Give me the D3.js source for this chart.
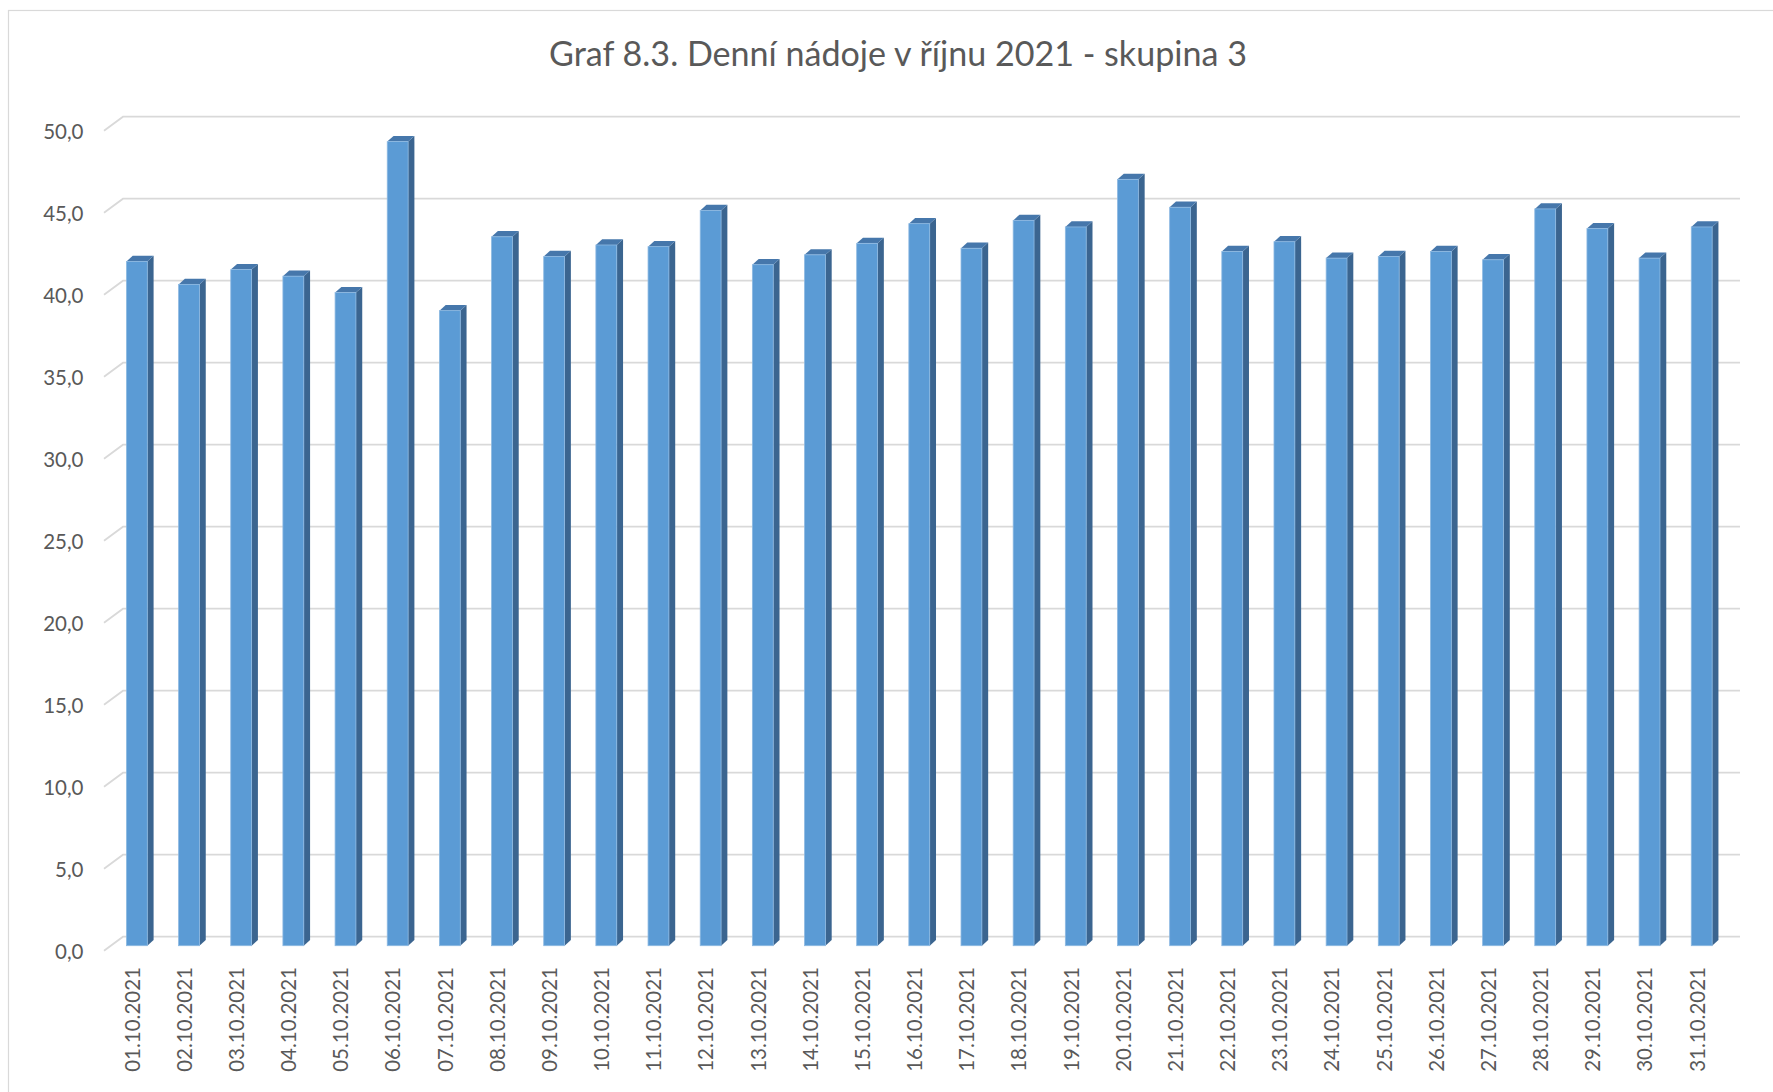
<!DOCTYPE html>
<html>
<head>
<meta charset="utf-8">
<script src="https://cdn.jsdelivr.net/npm/d3@7"></script>
<style>
  html, body { margin: 0; padding: 0; background: #ffffff; overflow: hidden; }
  svg { display: block; }
  text { font-family: Lato, "Open Sans", sans-serif; fill: #595959; }
</style>
</head>
<body>
<svg id="chart" width="1773" height="1092"></svg>
<script>
// ---- data ----
const title = "Graf 8.3. Denní nádoje v říjnu 2021 - skupina 3";
const dates = [
  "01.10.2021","02.10.2021","03.10.2021","04.10.2021","05.10.2021","06.10.2021","07.10.2021",
  "08.10.2021","09.10.2021","10.10.2021","11.10.2021","12.10.2021","13.10.2021","14.10.2021",
  "15.10.2021","16.10.2021","17.10.2021","18.10.2021","19.10.2021","20.10.2021","21.10.2021",
  "22.10.2021","23.10.2021","24.10.2021","25.10.2021","26.10.2021","27.10.2021","28.10.2021",
  "29.10.2021","30.10.2021","31.10.2021"
];
const values = [
  41.7, 40.3, 41.2, 40.8, 39.8, 49.0, 38.7,
  43.2, 42.0, 42.7, 42.6, 44.8, 41.5, 42.1,
  42.8, 44.0, 42.5, 44.2, 43.8, 46.7, 45.0,
  42.3, 42.9, 41.9, 42.0, 42.3, 41.8, 44.9,
  43.7, 41.9, 43.8
];
const yTicks = [0, 5, 10, 15, 20, 25, 30, 35, 40, 45, 50];

// ---- layout ----
const svg = d3.select("#chart");
const fmt = v => d3.format(".1f")(v).replace(".", ",");

// 3D projection offsets
const wallDX = 19, wallDY = 14;      // floor depth (front -> back wall)
const barDX = 6.3, barDY = 5.7;      // bar depth
const barFrontDepth = 0.357;         // fraction of floor depth where bar front sits

const xBackStart = 123, xBackEnd = 1740;
const yBack = d3.scaleLinear().domain([0, 50]).range([936.7, 116.7]);
const yFront = d3.scaleLinear().domain([0, 50]).range([950.7, 130.7]);
const yBar = d3.scaleLinear().domain([0, 50]).range([945.7, 945.7 - 820.5]);

const xFront = d3.scaleBand().domain(dates)
  .range([xBackStart - wallDX, xBackEnd - wallDX]);
const barOff = wallDX * barFrontDepth - wallDX;
const xBar = d3.scaleBand().domain(dates)
  .range([xBackStart + barOff, xBackEnd + barOff])
  .paddingInner(0.6).paddingOuter(0.3);

// chart border
svg.append("rect")
  .attr("x", 8.5).attr("y", 10.5)
  .attr("width", 1800).attr("height", 1200)
  .attr("fill", "none").attr("stroke", "#d9d9d9").attr("stroke-width", 1.2);

// title
const t = svg.append("text")
  .attr("x", 898).attr("y", 65.5)
  .attr("text-anchor", "middle")
  .style("font-size", "34px")
  .text(title);
const tw = t.node().getComputedTextLength();
t.style("font-size", (34 * 698 / tw).toFixed(2) + "px");

// gridlines (back wall + left wall diagonals)
const grid = svg.append("g").attr("fill", "none")
  .attr("stroke", "#d9d9d9").attr("stroke-width", 1.8);
yTicks.forEach(v => {
  const yb = yBack(v);
  grid.append("path")
    .attr("d", `M${xBackStart - wallDX},${yb + wallDY}L${xBackStart},${yb}L${xBackEnd},${yb}`);
});

// y tick labels
svg.append("g").selectAll("text").data(yTicks).join("text")
  .attr("x", 83.5)
  .attr("y", d => yFront(d) + 8.4)
  .attr("text-anchor", "end")
  .style("font-size", "20.5px")
  .text(fmt);

// bars
const bars = svg.append("g");
dates.forEach((d, i) => {
  const x = xBar(d), w = xBar.bandwidth();
  const yt = yBar(values[i]), yb = yBar(0);
  const g = bars.append("g");
  // side face
  g.append("path")
    .attr("d", `M${x + w},${yt}L${x + w + barDX},${yt - barDY}L${x + w + barDX},${yb - barDY}L${x + w},${yb}Z`)
    .attr("fill", "#3b6590");
  // top face
  g.append("path")
    .attr("d", `M${x},${yt}L${x + barDX},${yt - barDY}L${x + w + barDX},${yt - barDY}L${x + w},${yt}Z`)
    .attr("fill", "#4677ab");
  // front face
  g.append("rect")
    .attr("x", x).attr("y", yt)
    .attr("width", w).attr("height", yb - yt)
    .attr("fill", "#5b9bd5")
    .attr("stroke", "#8db9e2").attr("stroke-width", 0.8);
});

// x labels (rotated)
svg.append("g").selectAll("text").data(dates).join("text")
  .attr("transform", d => `translate(${xFront(d) + xFront.bandwidth() / 2 + 9.6},967) rotate(-90)`)
  .attr("text-anchor", "end")
  .style("font-size", "20.5px")
  .text(d => d);
</script>
</body>
</html>
